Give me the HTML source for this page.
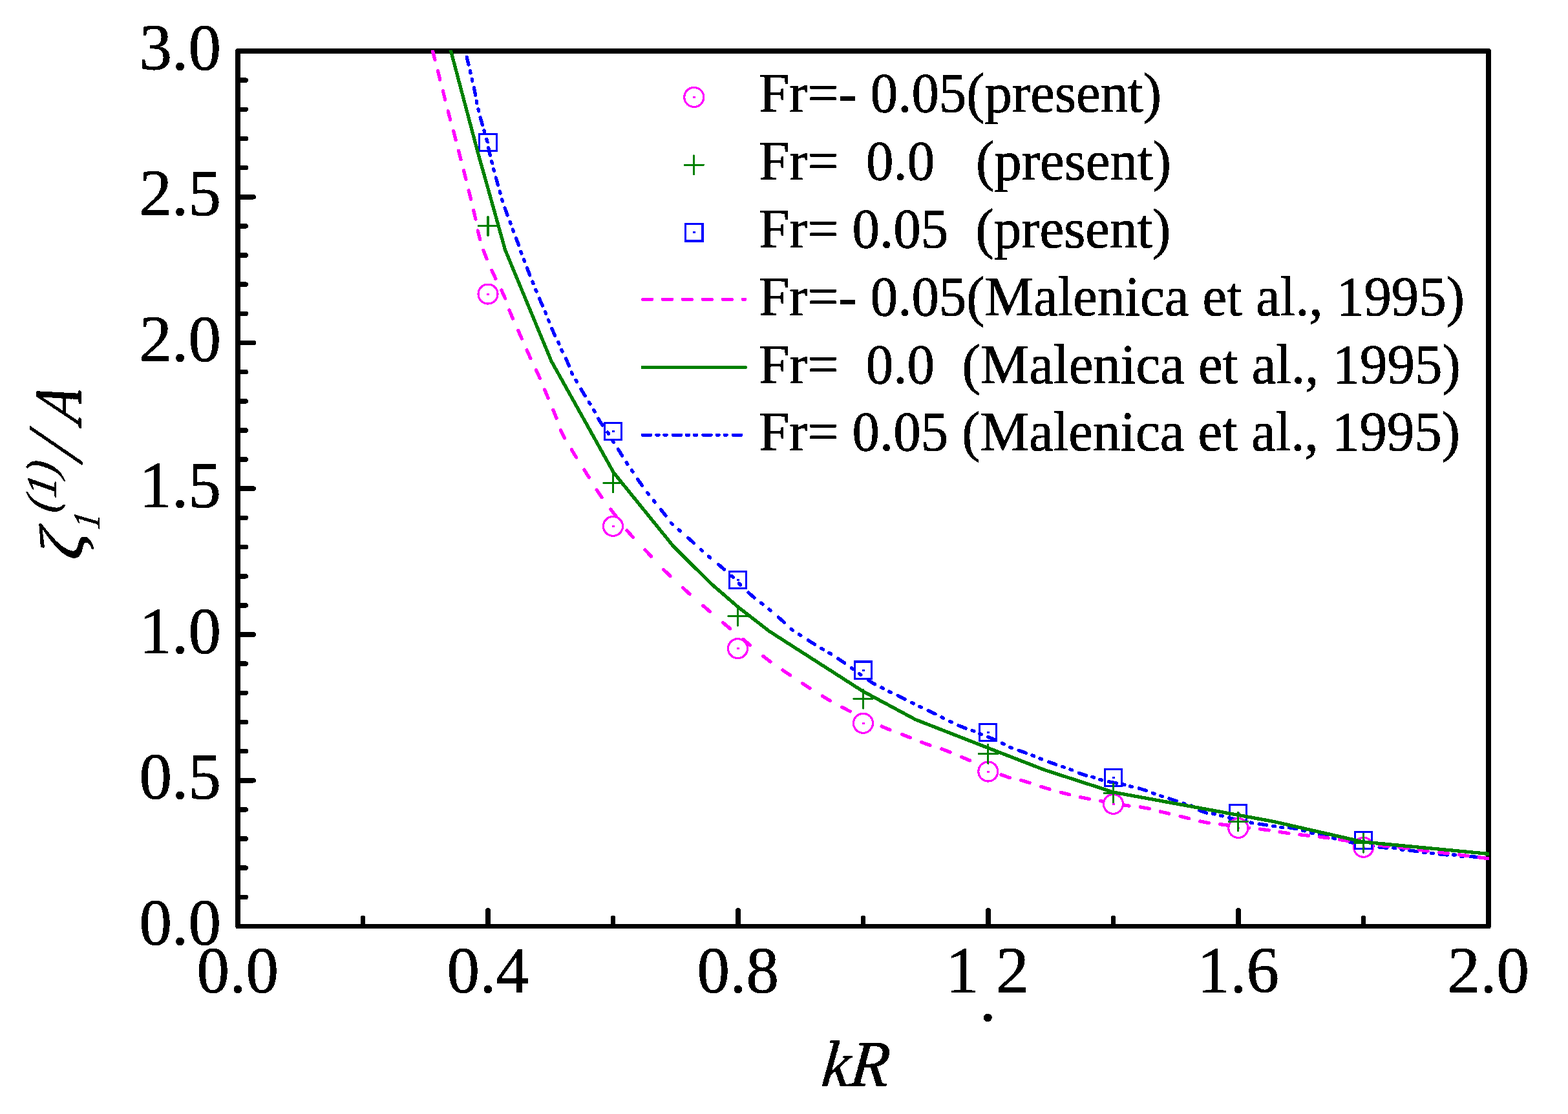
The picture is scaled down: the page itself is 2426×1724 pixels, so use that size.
<!DOCTYPE html>
<html lang="en">
<head>
<meta charset="utf-8">
<title>Wave run-up comparison</title>
<style>
html,body{margin:0;padding:0;background:#fff;}
body{width:2426px;height:1724px;overflow:hidden;}
svg{display:block;shape-rendering:crispEdges;}
text{filter:url(#bw);font-family:"Liberation Serif","DejaVu Serif",serif;fill:#000;stroke:#000;stroke-width:0.9px;stroke-linejoin:round;white-space:pre;}
.it{font-style:italic;}
</style>
</head>
<body>
<svg width="2426" height="1724" viewBox="0 0 2426 1724">
<rect x="0" y="0" width="2426" height="1724" fill="#ffffff"/>
<filter id="bw" x="-20%" y="-20%" width="140%" height="140%" color-interpolation-filters="sRGB"><feComponentTransfer><feFuncA type="discrete" tableValues="0 1"/></feComponentTransfer></filter>
<text xml:space="preserve" font-size="86.5" transform="translate(1173.94 173.40) scale(0.9814 1)">Fr=- 0.05(present)</text>
<text xml:space="preserve" font-size="86.5" transform="translate(1173.93 278.00) scale(0.9826 1)">Fr=  0.0   (present)</text>
<text xml:space="preserve" font-size="86.5" transform="translate(1173.94 382.90) scale(0.9817 1)">Fr= 0.05  (present)</text>
<text xml:space="preserve" font-size="86.5" transform="translate(1173.94 487.70) scale(0.9814 1)">Fr=- 0.05(Malenica et al., 1995)</text>
<text xml:space="preserve" font-size="86.5" transform="translate(1173.94 592.70) scale(0.9822 1)">Fr=  0.0  (Malenica et al., 1995)</text>
<text xml:space="preserve" font-size="86.5" transform="translate(1173.94 697.30) scale(0.9816 1)">Fr= 0.05 (Malenica et al., 1995)</text>
<text font-size="102" text-anchor="end" transform="translate(342.00 1462.20) scale(0.992 1)">0.0</text>
<text font-size="102" text-anchor="end" transform="translate(342.00 1236.45) scale(0.992 1)">0.5</text>
<text font-size="102" text-anchor="end" transform="translate(342.00 1010.70) scale(0.992 1)">1.0</text>
<text font-size="102" text-anchor="end" transform="translate(342.00 784.95) scale(0.992 1)">1.5</text>
<text font-size="102" text-anchor="end" transform="translate(342.00 559.20) scale(0.992 1)">2.0</text>
<text font-size="102" text-anchor="end" transform="translate(342.00 333.45) scale(0.992 1)">2.5</text>
<text font-size="102" text-anchor="end" transform="translate(342.00 107.70) scale(0.992 1)">3.0</text>
<text font-size="102" text-anchor="middle" transform="translate(367.80 1536.00) scale(0.992 1)">0.0</text>
<text font-size="102" text-anchor="middle" transform="translate(754.80 1536.00) scale(0.992 1)">0.4</text>
<text font-size="102" text-anchor="middle" transform="translate(1141.80 1536.00) scale(0.992 1)">0.8</text>
<text font-size="102" text-anchor="middle" transform="translate(1915.80 1536.00) scale(0.992 1)">1.6</text>
<text font-size="102" text-anchor="middle" transform="translate(2302.80 1536.00) scale(0.992 1)">2.0</text>
<text class="it" font-size="104" transform="translate(1269.16 1681) scale(0.9482 0.9808) skewX(-6)">kR</text>
<text font-size="102"><tspan x="1463.5" y="1536">1</tspan><tspan x="1515.6" y="1580">.</tspan><tspan x="1541" y="1536">2</tspan></text>
<g id="ytitle">
<text class="it" font-size="104" stroke-width="1.8" transform="translate(128.31 868.48) rotate(-90) scale(1.0462 0.9204) skewX(-6.0)">ζ</text>
<text class="it" font-size="60" stroke-width="1.2" transform="translate(154.00 820.34) rotate(-90) scale(0.8179 0.9800) skewX(-10.0)">1</text>
<text class="it" font-size="71" stroke-width="1.2" transform="translate(86.68 794.63) rotate(-90) scale(0.9446 0.9515) skewX(-10.0)">(1)</text>
<text class="it" font-size="121" stroke-width="0.0" transform="translate(126.21 715.04) rotate(-90) scale(0.8123 0.9926) skewX(-18.0)">/</text>
<text class="it" font-size="104" stroke-width="2.2" transform="translate(125.11 658.14) rotate(-90) scale(0.8370 0.9887) skewX(-14.5)">A</text>
</g>
<path d="M371.0 1388.35h9.2M371.0 1343.20h9.2M371.0 1298.05h9.2M371.0 1252.90h9.2M371.0 1207.75h21.2M371.0 1162.60h9.2M371.0 1117.45h9.2M371.0 1072.30h9.2M371.0 1027.15h9.2M371.0 982.00h21.2M371.0 936.85h9.2M371.0 891.70h9.2M371.0 846.55h9.2M371.0 801.40h9.2M371.0 756.25h21.2M371.0 711.10h9.2M371.0 665.95h9.2M371.0 620.80h9.2M371.0 575.65h9.2M371.0 530.50h21.2M371.0 485.35h9.2M371.0 440.20h9.2M371.0 395.05h9.2M371.0 349.90h9.2M371.0 304.75h21.2M371.0 259.60h9.2M371.0 214.45h9.2M371.0 169.30h9.2M371.0 124.15h9.2M561.50 1430.5v-9.7M755.00 1430.5v-21.7M948.50 1430.5v-9.7M1142.00 1430.5v-21.7M1335.50 1430.5v-9.7M1529.00 1430.5v-21.7M1722.50 1430.5v-9.7M1916.00 1430.5v-21.7M2109.50 1430.5v-9.7" fill="none" stroke="#000" stroke-width="7.6" stroke-linecap="round"/>
<rect x="368.0" y="79.0" width="1935.0" height="1354.5" fill="none" stroke="#000" stroke-width="7.6" stroke-linejoin="round"/>
<clipPath id="cp"><rect x="368" y="77.6" width="1936" height="1356"/></clipPath>
<g clip-path="url(#cp)" fill="none" stroke-linecap="round" stroke-linejoin="round">
<path d="M722.2 88.5L725.0 100.1M727.4 109.9L728.0 112.9M730.2 122.3L730.8 125.3M733.3 135.7L735.7 147.5M737.2 156.5L737.8 159.5M740.0 168.9L740.8 171.9M743.2 181.7L746.4 193.3M748.9 201.9L749.7 204.7M752.9 215.5L753.7 218.5M755.7 228.7L758.3 240.3M760.7 249.7L761.5 252.7M763.6 261.5L764.4 264.5M767.3 274.9L770.5 286.5M773.2 296.2L774.0 299.0M776.6 308.6L777.6 311.4M781.1 321.9L785.1 333.1M789.1 343.4L790.1 346.2M793.4 355.2L794.4 358.0M798.4 368.4L802.6 379.6M805.9 389.4L806.9 392.2M810.5 401.5L811.5 404.3M815.4 414.7L819.8 425.9M823.9 436.0L825.1 438.8M828.8 448.2L830.0 451.0M834.5 462.0L839.3 473.0M843.5 482.4L844.7 485.2M848.4 495.1L849.6 497.9M853.8 508.5L858.6 519.5M863.6 529.3L864.8 532.1M868.8 541.2L870.0 544.0M875.6 555.0L880.4 566.0M884.4 576.2L885.6 579.0M891.0 588.2L892.4 590.8M899.0 602.2L905.2 612.6M911.3 622.4L912.9 625.0M918.8 634.6L920.2 637.2M925.7 647.9L932.1 658.1M940.0 668.8L941.6 671.4M947.7 681.9L949.3 684.5M956.3 695.1L962.7 705.3M969.2 715.8L970.8 718.4M977.4 727.8L979.0 730.2M986.5 741.6L993.5 751.4M1001.8 762.5L1003.6 764.9M1011.4 774.7L1013.2 777.1M1022.6 788.7L1030.0 798.1M1038.4 809.3L1040.4 811.5M1050.2 819.9L1052.4 821.9M1064.7 832.5L1073.7 840.5M1084.4 850.6L1086.6 852.6M1096.6 861.1L1098.8 863.1M1111.4 873.5L1120.6 881.3M1132.0 891.3L1134.2 893.3M1143.4 903.1L1145.6 905.1M1157.9 917.1L1166.9 924.9M1177.6 933.1L1180.0 934.9M1189.9 942.8L1192.1 944.8M1204.3 955.2L1213.3 963.2M1224.1 973.5L1226.5 975.3M1236.3 981.8L1238.9 983.4M1250.4 990.8L1260.6 997.2M1270.9 1003.4L1273.5 1005.0M1283.0 1010.4L1285.6 1012.0M1296.8 1019.2L1306.8 1026.0M1317.3 1033.6L1319.7 1035.4M1329.4 1042.5L1331.8 1044.3M1343.3 1052.5L1353.5 1058.9M1363.7 1064.0L1366.3 1065.4M1375.7 1070.2L1378.3 1071.6M1389.2 1076.5L1400.0 1081.9M1410.8 1087.5L1413.4 1088.9M1422.6 1093.4L1425.4 1094.6M1436.2 1099.6L1447.0 1104.8M1457.1 1110.1L1459.7 1111.5M1469.6 1116.5L1472.4 1117.7M1483.0 1122.8L1494.2 1127.2M1504.1 1130.5L1506.9 1131.5M1515.6 1135.2L1518.4 1136.4M1528.9 1140.4L1539.9 1145.2M1550.3 1150.2L1553.1 1151.6M1562.4 1156.4L1565.2 1157.6M1576.2 1161.3L1587.4 1165.3M1596.9 1169.0L1599.7 1170.0M1609.0 1173.9L1611.8 1174.9M1622.6 1179.1L1633.8 1183.1M1643.7 1186.4L1646.5 1187.4M1655.8 1190.8L1658.6 1191.8M1669.3 1196.4L1680.7 1200.2M1689.9 1202.3L1692.7 1203.1M1701.8 1206.3L1704.6 1207.1M1715.7 1209.8L1727.5 1212.2M1737.0 1213.9L1740.0 1214.5M1748.5 1216.9L1751.5 1217.7M1762.2 1220.0L1773.6 1223.6M1783.3 1227.4L1786.1 1228.4M1795.4 1231.6L1798.2 1232.6M1808.9 1235.8L1820.3 1239.6M1830.5 1243.2L1833.3 1244.2M1843.0 1246.9L1845.8 1248.1M1855.4 1254.0L1866.6 1258.0M1876.3 1259.3L1879.3 1259.9M1888.4 1262.2L1891.4 1263.0M1901.7 1265.6L1913.3 1268.4M1922.5 1270.2L1925.5 1270.8M1934.8 1273.0L1937.8 1273.6M1948.1 1275.1L1959.9 1276.9M1969.5 1278.4L1972.5 1278.8M1981.7 1280.2L1984.7 1280.6M1994.3 1280.8L2006.1 1282.6M2015.5 1285.2L2018.5 1286.0M2028.4 1288.9L2031.4 1289.5M2041.7 1291.2L2053.3 1294.0M2062.5 1297.1L2065.5 1297.9M2075.0 1299.7L2078.0 1300.3M2088.6 1303.3L2100.4 1305.7M2109.5 1306.7L2112.5 1307.3M2121.3 1309.4L2124.3 1309.8M2134.1 1311.2L2146.1 1312.2M2155.7 1312.2L2158.7 1312.6M2168.1 1314.8L2171.1 1315.2M2180.6 1316.0L2192.6 1317.6M2202.4 1319.2L2205.4 1319.6M2214.5 1320.2L2217.5 1320.6M2227.4 1322.0L2239.4 1323.0M2248.4 1322.9L2251.4 1323.1M2260.5 1325.2L2263.5 1325.4M2274.6 1325.5L2286.6 1326.5M2295.5 1327.8L2298.5 1328.2" stroke="#0000ff" stroke-width="5.3"/>
<path d="M669.5 78.9L672.9 92.5M677.4 109.8L680.8 123.4M685.3 140.7L688.7 154.3M693.2 171.9L696.8 185.5M701.6 202.7L705.2 216.3M709.6 233.2L713.0 246.8M717.5 263.9L720.9 277.5M725.1 294.7L728.5 308.3M732.7 325.6L735.9 339.2M739.2 357.0L742.8 370.6M748.0 387.4L753.0 400.6M761.0 418.5L766.8 431.3M776.0 449.1L781.6 461.9M788.0 480.0L793.4 493.0M801.7 511.3L807.3 524.1M815.1 541.8L820.9 554.6M829.5 572.6L835.3 585.4M842.7 603.1L848.1 616.1M855.8 634.3L861.0 647.3M867.4 665.4L873.6 678.0M884.4 695.9L891.6 707.9M903.9 727.1L911.3 738.9M923.2 758.2L931.0 769.8M944.8 788.2L953.4 799.4M970.1 820.9L979.3 831.5M997.9 850.8L1007.5 861.0M1026.9 881.7L1036.9 891.5M1056.7 909.9L1067.1 919.3M1087.8 937.3L1098.4 946.5M1118.8 963.8L1129.6 972.8M1149.9 989.5L1160.7 998.5M1180.8 1015.5L1192.0 1024.1M1210.9 1037.1L1222.5 1044.9M1241.3 1057.5L1253.1 1065.1M1272.3 1077.2L1284.3 1084.4M1302.8 1094.5L1315.2 1100.9M1333.2 1109.5L1345.8 1115.5M1364.1 1124.1L1376.9 1129.5M1395.5 1136.5L1408.5 1141.7M1425.7 1148.6L1438.9 1153.4M1456.8 1159.0L1470.0 1164.0M1487.7 1171.5L1500.5 1176.9M1518.6 1184.7L1531.4 1190.3M1549.0 1198.9L1562.2 1203.7M1579.7 1207.5L1593.1 1211.5M1610.5 1217.3L1623.9 1221.3M1641.2 1226.3L1654.8 1229.7M1671.4 1233.6L1685.2 1236.4M1702.6 1239.6L1716.4 1242.0M1733.1 1244.9L1746.9 1247.1M1764.4 1248.9L1778.2 1251.5M1795.2 1256.0L1808.8 1259.2M1826.1 1263.4L1839.7 1266.6M1856.7 1271.0L1870.5 1273.6M1887.6 1275.6L1901.4 1277.4M1918.6 1279.7L1932.4 1281.3M1949.5 1283.1L1963.3 1284.9M1980.1 1287.6L1993.9 1289.6M2010.9 1291.7L2024.7 1293.3M2041.4 1295.1L2055.2 1296.9M2072.3 1299.4L2086.1 1301.4M2103.1 1304.0L2116.9 1306.0M2134.2 1308.3L2148.2 1309.9M2164.6 1311.2L2178.6 1312.8M2195.5 1315.3L2209.3 1317.1M2226.7 1319.1L2240.5 1320.7M2257.5 1322.8L2271.3 1324.6M2288.1 1326.8L2301.9 1328.6" stroke="#ff00ff" stroke-width="5.3"/>
</g>
<g id="circles">
<circle cx="755.0" cy="455.1" r="15" fill="#fff" stroke="#ff00ff" stroke-width="3.2"/><rect x="753.0" y="453.6" width="4" height="3" fill="#ff00ff"/>
<circle cx="948.5" cy="814.4" r="15" fill="#fff" stroke="#ff00ff" stroke-width="3.2"/><rect x="946.5" y="812.9" width="4" height="3" fill="#ff00ff"/>
<circle cx="1141.5" cy="1003.6" r="15" fill="#fff" stroke="#ff00ff" stroke-width="3.2"/><rect x="1139.5" y="1002.1" width="4" height="3" fill="#ff00ff"/>
<circle cx="1335.5" cy="1119.3" r="15" fill="#fff" stroke="#ff00ff" stroke-width="3.2"/><rect x="1333.5" y="1117.8" width="4" height="3" fill="#ff00ff"/>
<circle cx="1528.8" cy="1194.0" r="15" fill="#fff" stroke="#ff00ff" stroke-width="3.2"/><rect x="1526.8" y="1192.5" width="4" height="3" fill="#ff00ff"/>
<circle cx="1722.5" cy="1244.3" r="15" fill="#fff" stroke="#ff00ff" stroke-width="3.2"/><rect x="1720.5" y="1242.8" width="4" height="3" fill="#ff00ff"/>
<circle cx="1915.8" cy="1281.5" r="15" fill="#fff" stroke="#ff00ff" stroke-width="3.2"/><rect x="1913.8" y="1280.0" width="4" height="3" fill="#ff00ff"/>
<circle cx="2109.6" cy="1311.3" r="15" fill="#fff" stroke="#ff00ff" stroke-width="3.2"/><rect x="2107.6" y="1309.8" width="4" height="3" fill="#ff00ff"/>
</g>
<g id="squares">
<rect x="741.9" y="207.4" width="26.2" height="26.2" fill="none" stroke="#0000ff" stroke-width="3.1"/><rect x="753.0" y="219.0" width="4" height="3" fill="#0000ff"/>
<rect x="935.4" y="654.5" width="26.2" height="26.2" fill="none" stroke="#0000ff" stroke-width="3.1"/><rect x="946.5" y="666.1" width="4" height="3" fill="#0000ff"/>
<rect x="1128.4" y="884.5" width="26.2" height="26.2" fill="none" stroke="#0000ff" stroke-width="3.1"/><rect x="1139.5" y="896.1" width="4" height="3" fill="#0000ff"/>
<rect x="1322.4" y="1024.0" width="26.2" height="26.2" fill="none" stroke="#0000ff" stroke-width="3.1"/><rect x="1333.5" y="1035.6" width="4" height="3" fill="#0000ff"/>
<rect x="1515.7" y="1120.2" width="26.2" height="26.2" fill="none" stroke="#0000ff" stroke-width="3.1"/><rect x="1526.8" y="1131.8" width="4" height="3" fill="#0000ff"/>
<rect x="1709.4" y="1190.3" width="26.2" height="26.2" fill="none" stroke="#0000ff" stroke-width="3.1"/><rect x="1720.5" y="1201.9" width="4" height="3" fill="#0000ff"/>
<rect x="1902.7" y="1245.3" width="26.2" height="26.2" fill="none" stroke="#0000ff" stroke-width="3.1"/><rect x="1913.8" y="1256.9" width="4" height="3" fill="#0000ff"/>
<rect x="2096.5" y="1287.3" width="26.2" height="26.2" fill="none" stroke="#0000ff" stroke-width="3.1"/><rect x="2107.6" y="1298.9" width="4" height="3" fill="#0000ff"/>
</g>
<g clip-path="url(#cp)" fill="none" stroke-linecap="round" stroke-linejoin="round">
<path d="M695.4 70.6L697.5 78.5L740.4 240.0L755.2 292.2L781.5 386.5L853.0 558.8L949.5 731.5L1041.5 845.0L1100.0 903.1L1141.9 939.4L1190.4 977.0L1335.4 1070.0L1416.3 1113.5L1520.0 1154.1L1616.3 1191.6L1722.5 1226.0L1970.0 1271.3L2109.3 1303.0L2303.0 1321.4" stroke="#008000" stroke-width="5.3"/>
</g>
<g id="plus">
<path d="M740.6 349.7h28.8M755.0 335.3v28.8" fill="none" stroke="#008000" stroke-width="3.3" stroke-linecap="round"/>
<path d="M934.1 747.4h28.8M948.5 733.0v28.8" fill="none" stroke="#008000" stroke-width="3.3" stroke-linecap="round"/>
<path d="M1127.1 953.7h28.8M1141.5 939.3v28.8" fill="none" stroke="#008000" stroke-width="3.3" stroke-linecap="round"/>
<path d="M1321.1 1081.7h28.8M1335.5 1067.3v28.8" fill="none" stroke="#008000" stroke-width="3.3" stroke-linecap="round"/>
<path d="M1514.4 1166.7h28.8M1528.8 1152.3v28.8" fill="none" stroke="#008000" stroke-width="3.3" stroke-linecap="round"/>
<path d="M1708.1 1227.3h28.8M1722.5 1212.9v28.8" fill="none" stroke="#008000" stroke-width="3.3" stroke-linecap="round"/>
<path d="M1901.4 1271.5h28.8M1915.8 1257.1v28.8" fill="none" stroke="#008000" stroke-width="3.3" stroke-linecap="round"/>
<path d="M2095.2 1304.7h28.8M2109.6 1290.3v28.8" fill="none" stroke="#008000" stroke-width="3.3" stroke-linecap="round"/>
</g>
<g id="legend-symbols">
<circle cx="1073.8" cy="150.4" r="15" fill="#fff" stroke="#ff00ff" stroke-width="3.2"/><rect x="1071.8" y="148.9" width="4" height="3" fill="#ff00ff"/>
<path d="M1059.4 255.4h28.8M1073.8 241.0v28.8" fill="none" stroke="#008000" stroke-width="3.3" stroke-linecap="round"/>
<rect x="1060.8" y="346.8" width="26.2" height="26.2" fill="none" stroke="#0000ff" stroke-width="3.1"/><rect x="1071.9" y="358.4" width="4" height="3" fill="#0000ff"/>
<path d="M994.6 463.3H1152.6" stroke="#ff00ff" stroke-width="5.2" stroke-linecap="round" stroke-dasharray="14 16.9" fill="none"/>
<path d="M994.3 568.5H1153.3" stroke="#008000" stroke-width="5.2" stroke-linecap="round" fill="none"/>
<path d="M994.6 673.1H1146.6" stroke="#0000ff" stroke-width="5.2" stroke-linecap="round" stroke-dasharray="12.2 9.2 3 9 3 10.2" fill="none"/>
</g>
</svg>
</body>
</html>
